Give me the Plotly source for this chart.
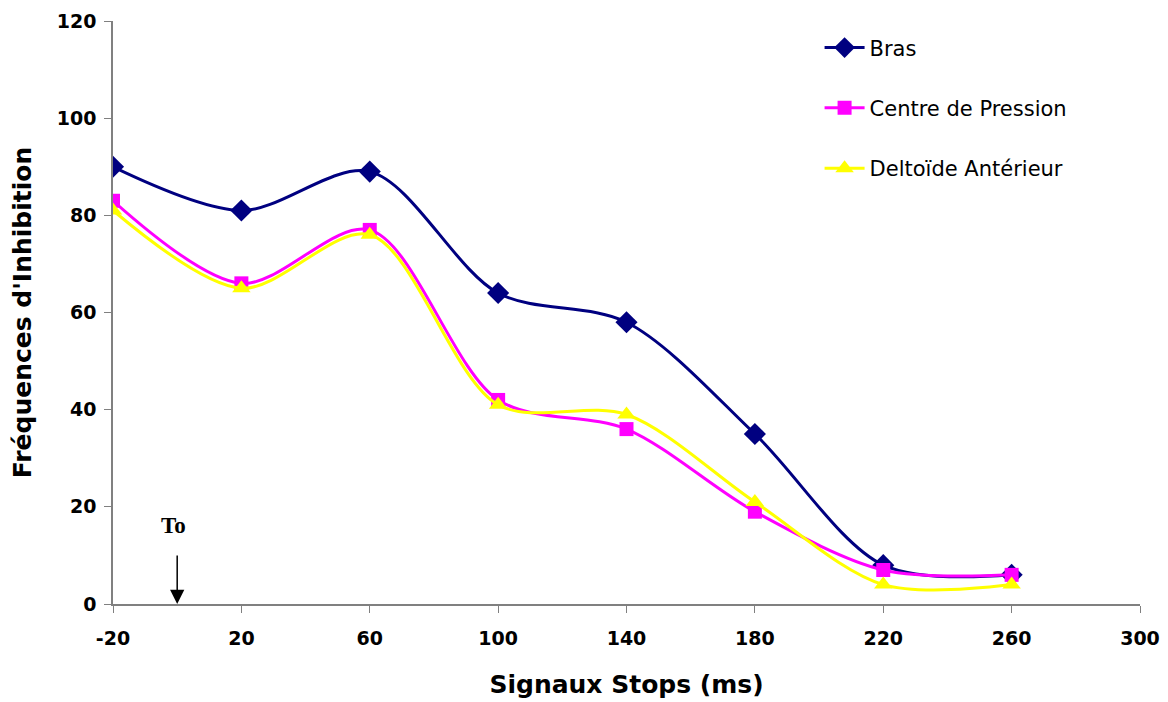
import plotly.graph_objects as go

# stop signal delays (ms)
signaux = [-20, 20, 60, 100, 140, 180, 220, 260]
x_ticks = [-20, 20, 60, 100, 140, 180, 220, 260, 300]
y_ticks = [0, 20, 40, 60, 80, 100, 120]

bras = [90, 81, 89, 64, 58, 35, 8, 6]
centre_pression = [83, 66, 77, 42, 36, 19, 7, 6]
deltoide = [81, 65, 76, 41, 39, 21, 4, 4]

font = "DejaVu Sans, sans-serif"

fig = go.Figure()

series = [
    ("Bras", bras, "#000080", "diamond", 17),
    ("Centre de Pression", centre_pression, "#FF00FF", "square", 14),
    ("Deltoïde Antérieur", deltoide, "#FFFF00", "triangle-up", 16),
]
for name, vals, col, sym, sz in series:
    fig.add_trace(go.Scatter(
        x=signaux, y=vals, name=name, legendgroup=name,
        mode="lines+markers",
        line=dict(color=col, width=3, shape="spline", smoothing=0.9),
        marker=dict(symbol=sym, size=sz, color=col),
    ))

# "To" marker
fig.add_annotation(x=0, y=0, ax=0, ay=-50, xref="x", yref="y",
                   text="", showarrow=True, arrowhead=2, arrowsize=1.9,
                   arrowwidth=1.5, arrowcolor="black")
fig.add_annotation(x=0, y=16.2, xref="x", yref="y", text="<b>To</b>",
                   showarrow=False, xshift=-4,
                   font=dict(family="Times New Roman, Liberation Serif, serif", size=23, color="black"))

# page body adds ~8px offset, margins compensate
fig.update_layout(
    width=1168, height=702,
    margin=dict(l=105, r=36, t=13, b=106),
    plot_bgcolor="white", paper_bgcolor="white",
    font=dict(family=font, color="black"),
    showlegend=True,
    legend=dict(x=0.688, y=0.989, xanchor="left", yanchor="top",
                font=dict(size=21, family=font), tracegroupgap=30,
                traceorder="grouped", bgcolor="rgba(0,0,0,0)",
                itemwidth=40),
    xaxis=dict(
        range=[-20, 300], tickvals=x_ticks, ticktext=["<b>%d</b>" % v for v in x_ticks],
        showgrid=False, zeroline=False, showline=True, linecolor="#808080",
        linewidth=1.5, ticks="outside", ticklen=7, tickcolor="#808080",
        tickfont=dict(size=19, family=font), automargin=False,
        ticklabelstandoff=9,
        title=dict(text="<b>Signaux Stops (ms)</b>", font=dict(size=25, family=font), standoff=28),
    ),
    yaxis=dict(
        range=[0, 120], tickvals=y_ticks, ticktext=["<b>%d</b>" % v for v in y_ticks],
        showgrid=False, zeroline=False, showline=True, linecolor="#808080",
        linewidth=1.5, ticks="outside", ticklen=7, tickcolor="#808080",
        tickfont=dict(size=19, family=font), automargin=False,
        ticklabelstandoff=4,
        title=dict(text="<b>Fréquences d'Inhibition</b>", font=dict(size=25, family=font), standoff=20),
    ),
)

fig.write_html("out.html")
